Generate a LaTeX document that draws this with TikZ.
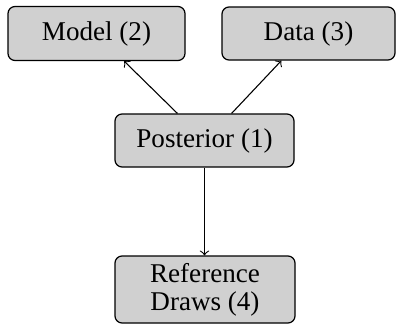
\documentclass[tikz,border=0pt]{standalone}
\usepackage{fontspec}
\setmainfont{Liberation Serif}
\begin{document}
\begin{tikzpicture}[x=0.369pt,y=-0.369pt,
  box/.style={draw=black,fill=boxgray,rounded corners=2.6pt,line width=0.45pt,
    inner sep=0pt,align=center,font=\fontsize{10}{10.3}\selectfont},
  arr/.style={->,line width=0.4pt}]
\definecolor{boxgray}{HTML}{D0D0D0}
\useasboundingbox (0,0) rectangle (396,324);
\node[box,minimum width=177*0.369pt,minimum height=54*0.369pt] (model) at (96.5,33.5) {Model (2)};
\node[box,minimum width=173*0.369pt,minimum height=53*0.369pt] (data) at (308.5,33.5) {Data (3)};
\node[box,minimum width=179*0.369pt,minimum height=53*0.369pt] (post) at (204.5,140.5) {Posterior (1)};
\node[box,minimum width=180*0.369pt,minimum height=67*0.369pt] (ref) at (205,289.5) {Reference\\Draws (4)};
\draw[arr] (post.135) -- (model.-45);
\draw[arr] (post.45) -- (data.-135);
\draw[arr] (post.south) -- (post.south |- ref.north);
\end{tikzpicture}
\end{document}
